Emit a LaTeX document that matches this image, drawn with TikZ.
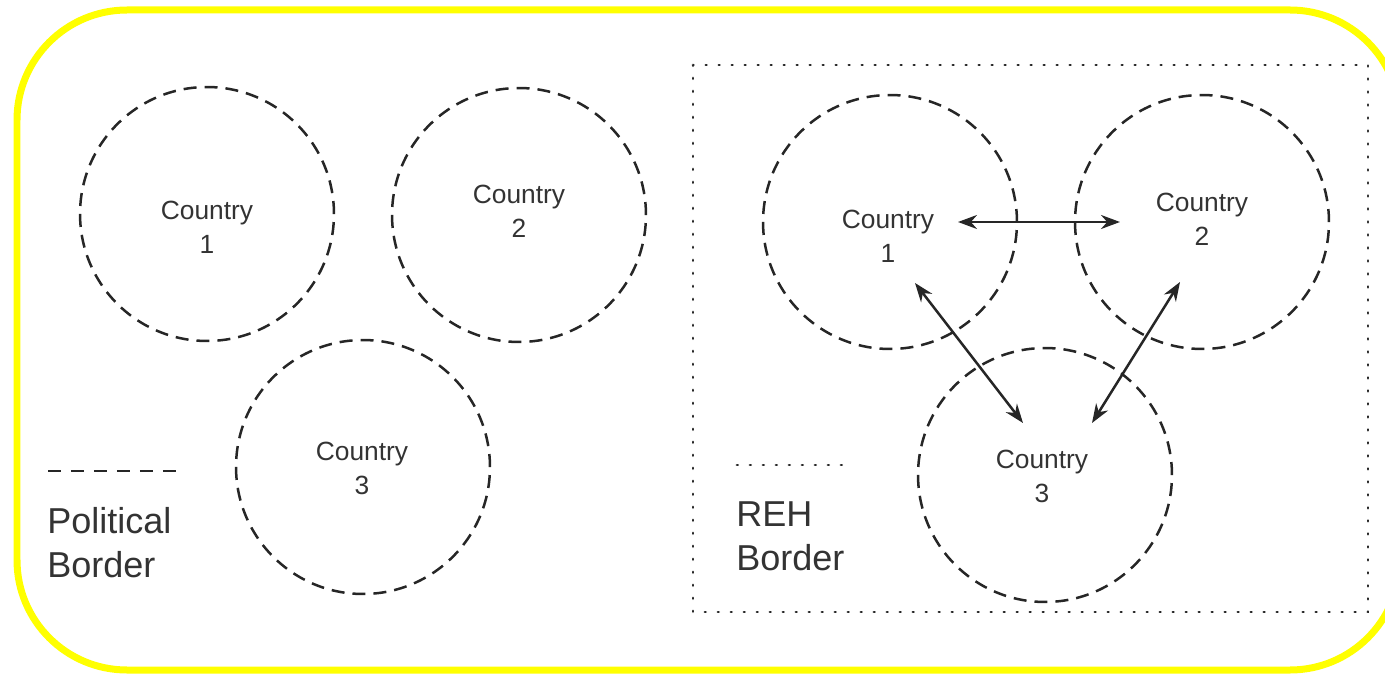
\documentclass[tikz,border=0pt]{standalone}
\usepackage{fontspec}
\setmainfont{Liberation Sans}
\usetikzlibrary{arrows.meta}
\definecolor{frameyellow}{HTML}{FFFF00}
\definecolor{inkgray}{HTML}{333333}
\tikzset{
  country/.style={circle, draw=black!85, line width=0.05cm, dash pattern=on 0.26cm off 0.16cm, minimum size=5.08cm, inner sep=0pt},
  cname/.style={text=inkgray, align=center, font=\fontsize{15}{19.3}\selectfont},
  legend/.style={text=inkgray, align=left, anchor=west, inner sep=0pt, font=\fontsize{20.5}{25}\selectfont},
  rehline/.style={black!85, line width=0.055cm, dash pattern=on 0.015cm off 0.245cm, line cap=round},
  link/.style={black!85, line width=0.05cm, {Stealth[length=0.38cm, width=0.28cm]}-{Stealth[length=0.38cm, width=0.28cm]}}
}
\begin{document}
\begin{tikzpicture}[x=0.02cm, y=-0.02cm]
  \useasboundingbox (0,0) rectangle (1385,675);
  % outer frame
  \draw[frameyellow, line width=0.14cm, rounded corners=2.2cm] (17,10) rectangle (1400,670);

  % political borders
  \node[country] (p1) at (207,214) {};
  \node[country] (p2) at (519,215) {};
  \node[country] (p3) at (363,467) {};
  \node[cname] (pn1) at (207,227) {Country\\1};
  \node[cname] (pn2) at (519,211) {Country\\2};
  \node[cname] (pn3) at (362,468) {Country\\3};

  \coordinate (pl0) at (48,471);
  \coordinate (pl1) at (183,471);
  \draw[black!85, line width=0.05cm, dash pattern=on 0.26cm off 0.2cm] (pl0) -- (pl1);
  \node[legend] (pleg) at (47,543) {Political\\Border};

  % REH border
  \draw[rehline] (693,65) rectangle (1368,612);
  \node[country] (r1) at (890,222) {};
  \node[country] (r2) at (1202,222) {};
  \node[country] (r3) at (1045,475) {};
  \node[cname] (rn1) at (888,236) {Country\\1};
  \node[cname] (rn2) at (1202,219) {Country\\2};
  \node[cname] (rn3) at (1042,476) {Country\\3};

  \coordinate (a1) at (958,222);
  \coordinate (a2) at (1120,222);
  \coordinate (b1) at (915,283);
  \coordinate (b3) at (1023,423);
  \coordinate (d2) at (1180,282);
  \coordinate (d3) at (1092,423);
  \draw[link] (a1) -- (a2);
  \draw[link] (b1) -- (b3);
  \draw[link] (d2) -- (d3);

  \coordinate (rl0) at (737,465);
  \coordinate (rl1) at (853,465);
  \draw[rehline] (rl0) -- (rl1);
  \node[legend] (rleg) at (736,536) {REH\\Border};
\end{tikzpicture}
\end{document}
